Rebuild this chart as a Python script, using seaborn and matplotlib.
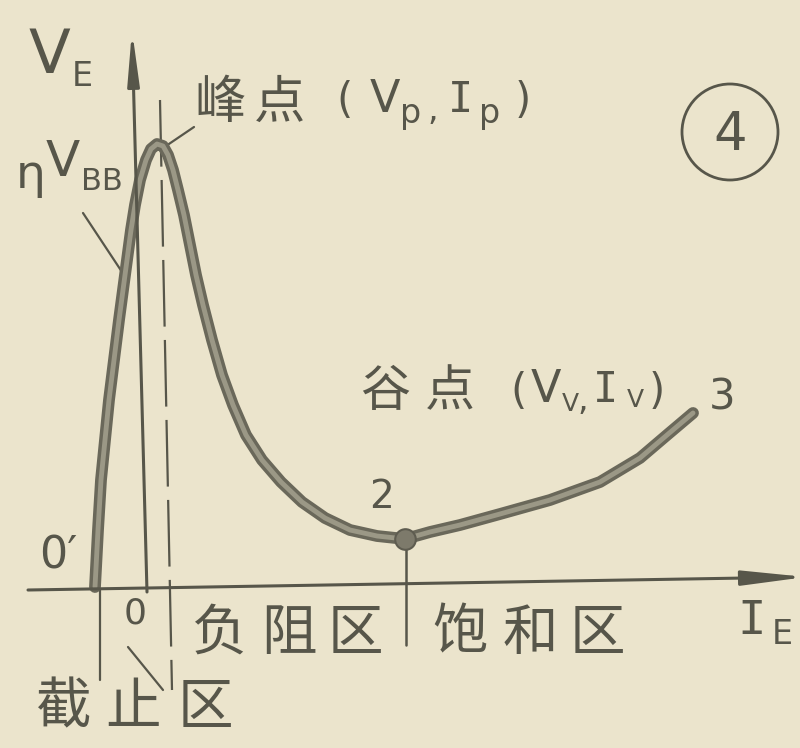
import matplotlib
matplotlib.use("Agg")
import matplotlib.pyplot as plt
from matplotlib.patches import Circle
import seaborn as sns

# UJT emitter characteristic V_E versus I_E (drawing units, origin at O)
I_E = [-52, -49, -46, -42, -38, -33, -28, -24, -20, -16, -12, -7, -1, 4, 10,
       16, 21, 26, 31, 37, 43, 49, 56, 65, 75, 86, 99, 115, 134, 155, 178,
       203, 230, 258, 283, 313, 353, 403, 453, 493, 520, 546]
V_E = [0, 57, 107, 147, 187, 227, 267, 297, 327, 357, 382, 407, 427, 438, 443,
       441, 432, 417, 397, 372, 342, 312, 282, 247, 212, 182, 152, 127, 105,
       85, 69, 57, 51, 48, 55, 62, 73, 87, 105, 129, 152, 174]

peak_I, peak_V = 10, 443        # (Ip, Vp)
valley_I, valley_V = 258, 48    # (Iv, Vv)
cutoff_I = -50                  # O' : start of the curve
eta_VBB_I, eta_VBB_V = -22, 311

region_labels = ["截止区", "负阻区", "饱和区"]

sns.set_theme(style="white")
INK = "#57564a"
BG = "#ebe4cc"
CJK = ["Noto Sans CJK SC", "DejaVu Sans"]
LAT = ["Liberation Sans Narrow", "DejaVu Sans"]
MONO = ["DejaVu Sans Mono"]
plt.rcParams["font.family"] = CJK

fig = plt.figure(figsize=(8, 7.48), dpi=100, facecolor=BG)
ax = fig.add_axes([0, 0, 1, 1])
ax.set_facecolor(BG)
ax.set_xlim(-147, 653)
ax.set_ylim(-161, 587)
ax.axis("off")


def P(px, py):
    return px - 147, 587 - py


# axes with arrows
ax.annotate("", xy=P(132, 30), xytext=P(147, 592), annotation_clip=False,
            arrowprops=dict(arrowstyle="-|>,head_length=2.0,head_width=0.22",
                            mutation_scale=16, lw=2.2, color=INK,
                            shrinkA=0, shrinkB=0))
ax.annotate("", xy=P(806, 577), xytext=P(28, 590), annotation_clip=False,
            arrowprops=dict(arrowstyle="-|>,head_length=2.4,head_width=0.28",
                            mutation_scale=16, lw=2.2, color=INK,
                            shrinkA=0, shrinkB=0))

# dashed line through the peak, region dividers
x0, y0 = P(160, 100)
x1, y1 = P(172, 690)
ax.plot([x0, x1], [y0, y1], color=INK, lw=1.6, dashes=(30, 6))
ax.plot([cutoff_I + 3, cutoff_I + 3], [-3, -93], color=INK, lw=1.6)
ax.plot([valley_I + 1, valley_I + 1], [valley_V - 10, -58], color=INK, lw=1.8)

# leader lines
for a, b in [((83, 213), (124, 275)), ((163, 148), (194, 127)),
             ((128, 647), (163, 690))]:
    (xa, ya), (xb, yb) = P(*a), P(*b)
    ax.plot([xa, xb], [ya, yb], color=INK, lw=1.6)

# characteristic curve: dark edge with lighter core
sns.lineplot(x=I_E, y=V_E, sort=False, ax=ax, color="#6a685a", lw=8.5,
             solid_capstyle="round", solid_joinstyle="round")
sns.lineplot(x=I_E, y=V_E, sort=False, ax=ax, color="#9b9886", lw=3.5,
             solid_capstyle="round", solid_joinstyle="round")
sns.scatterplot(x=[valley_I], y=[valley_V], ax=ax, s=220, color="#7d7a6b",
                edgecolor="#5e5c50", linewidth=1.5, zorder=5)


def put(s, px, py, size, family=LAT, **kw):
    ax.text(*P(px, py), s, ha="center", va="center", fontsize=size,
            color=INK, family=family, **kw)


# axis names
put("V", 49, 56, 44)
put("E", 82, 77, 24)
put("I", 752, 622, 34, family=MONO)
put("E", 782, 634, 24)

# eta*V_BB
put("η", 31, 176, 34, family=["DejaVu Sans"])
put("V", 63, 162, 36)
put("BB", 102, 181, 22)

# origins
put("0′", 58, 556, 32, family=["DejaVu Sans"])
put("0", 135, 613, 26)

# point numbers
put("2", 381, 497, 28)
put("3", 722, 397, 30)

# peak label
put("峰", 220, 103, 37, family=CJK)
put("点", 280, 103, 37, family=CJK)
put("(", 345, 101, 30, family=["DejaVu Sans"])
put("V", 385, 100, 32)
put("p", 411, 114, 24)
put(",", 433, 110, 24)
put("I", 460, 100, 30, family=MONO)
put("p", 490, 114, 24)
put(")", 523, 101, 30, family=["DejaVu Sans"])

# valley label
put("谷", 385, 392, 36, family=CJK)
put("点", 450, 392, 36, family=CJK)
put("(", 518, 392, 30, family=["DejaVu Sans"])
put("V", 546, 389, 32)
put("V", 570, 404, 18)
put(",", 583, 400, 24)
put("I", 605, 390, 30, family=MONO)
put("V", 635, 400, 18)
put(")", 657, 392, 30, family=["DejaVu Sans"])

# region labels, one glyph at a time
for text, xs, py in [(region_labels[0], (64, 133, 205), 708),
                     (region_labels[1], (220, 289, 355), 634),
                     (region_labels[2], (460, 530, 597), 634)]:
    for ch, px in zip(text, xs):
        put(ch, px, py, 40, family=CJK)

# circled figure number
ax.add_patch(Circle(P(730, 132), 48, fill=False, ec=INK, lw=2))
put("4", 730, 135, 38, family=["DejaVu Sans"])

fig.savefig("out.png", dpi=100, facecolor=BG)
